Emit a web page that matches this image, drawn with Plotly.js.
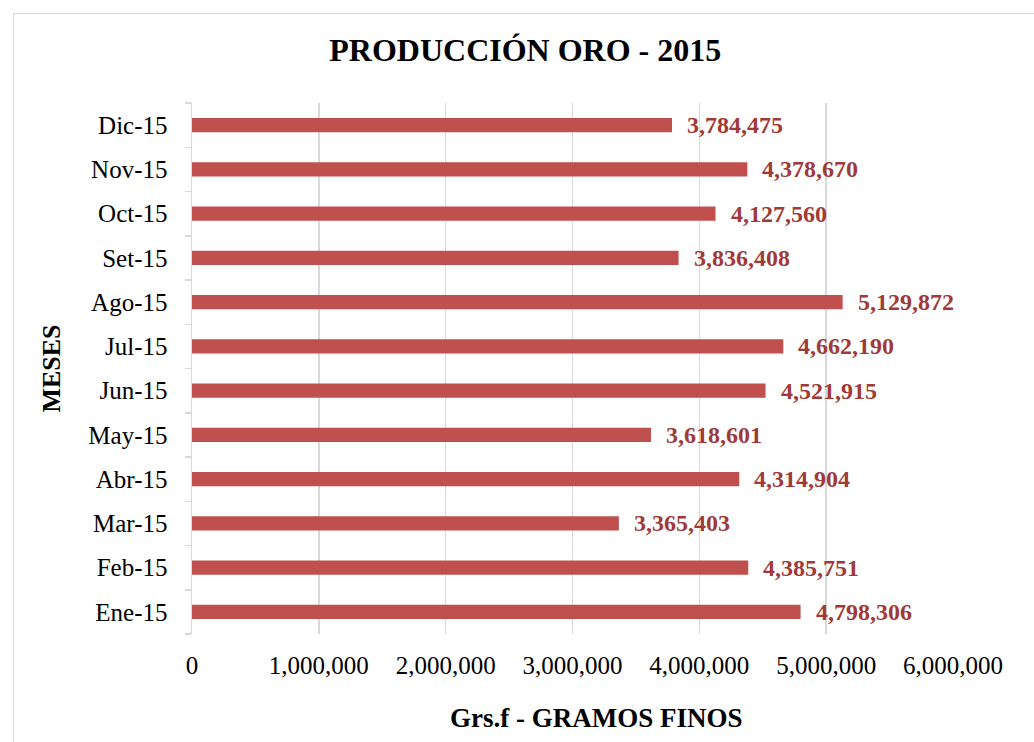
<!DOCTYPE html>
<html>
<head>
<meta charset="utf-8">
<script src="https://cdn.plot.ly/plotly-3.0.1.min.js"></script>
<style>
html,body{margin:0;padding:0;background:#fff;}
#wrap{position:relative;width:1034px;height:742px;}
#chart{width:1034px;height:742px;}
#frame{position:absolute;left:13px;top:13px;width:1030px;height:740px;border:1px solid #d9d9d9;pointer-events:none;}
</style>
</head>
<body>
<div id="wrap"><div id="chart"></div><div id="frame"></div></div>
<script>
const months = ["Ene-15","Feb-15","Mar-15","Abr-15","May-15","Jun-15","Jul-15","Ago-15","Set-15","Oct-15","Nov-15","Dic-15"];
const gramos = [4798306,4385751,3365403,4314904,3618601,4521915,4662190,5129872,3836408,4127560,4378670,3784475];
const xTicks = [0,1000000,2000000,3000000,4000000,5000000,6000000];
const xTickText = ["0","1,000,000","2,000,000","3,000,000","4,000,000","5,000,000","6,000,000"];
const xTitle = "Grs.f - GRAMOS FINOS";
const yTitle = "MESES";
const chartTitle = "PRODUCCIÓN ORO - 2015";

const serif = "Liberation Serif, Times New Roman, serif";
const fmt = v => v.toLocaleString("en-US");

const trace = {
  type: "bar",
  orientation: "h",
  x: gramos,
  y: months,
  width: 0.32,
  marker: {color: "#C0504D"},
  hoverinfo: "x+y"
};

const annotations = months.map((m, i) => ({
  x: gramos[i], y: m, xref: "x", yref: "y",
  text: fmt(gramos[i]), showarrow: false,
  xanchor: "left", yanchor: "middle", xshift: 13,
  font: {family: serif, size: 24, color: "#A03A38", weight: "bold"}
}));
annotations.push({
  x: 0.532, y: -0.158, xref: "paper", yref: "paper",
  text: "<b>" + xTitle + "</b>", showarrow: false,
  xanchor: "center", yanchor: "middle",
  font: {family: serif, size: 27, color: "#000"}
});

const layout = {
  width: 1034, height: 742,
  margin: {l: 192, r: 81, t: 103, b: 108},
  paper_bgcolor: "#ffffff", plot_bgcolor: "#ffffff",
  showlegend: false,
  font: {family: serif, size: 25, color: "#000"},
  title: {text: "<b>" + chartTitle + "</b>", x: 0.508, xanchor: "center", y: 0.933, yanchor: "middle",
          font: {family: serif, size: 32, color: "#000"}},
  xaxis: {
    range: [0, 6000000], tickvals: xTicks, ticktext: xTickText,
    showgrid: true, gridcolor: "#d9d9d9", gridwidth: 1.5, zeroline: false,
    showline: false, ticks: "outside", ticklen: 9, tickcolor: "rgba(0,0,0,0)",
    tickfont: {family: serif, size: 25, color: "#000"},
    fixedrange: true
  },
  yaxis: {
    type: "category", categoryorder: "array", categoryarray: months,
    showline: true, linecolor: "#d9d9d9", linewidth: 1.5,
    ticks: "outside", tickson: "boundaries", ticklen: 6, tickcolor: "#d9d9d9", tickwidth: 1.5,
    ticklabelstandoff: 18,
    showgrid: false, zeroline: false,
    tickfont: {family: serif, size: 25, color: "#000"},
    title: {text: "<b>" + yTitle + "</b>", standoff: 20, font: {family: serif, size: 26, color: "#000"}},
    fixedrange: true
  },
  annotations: annotations
};

Plotly.newPlot("chart", [trace], layout, {displayModeBar: false, staticPlot: true});
</script>
</body>
</html>
